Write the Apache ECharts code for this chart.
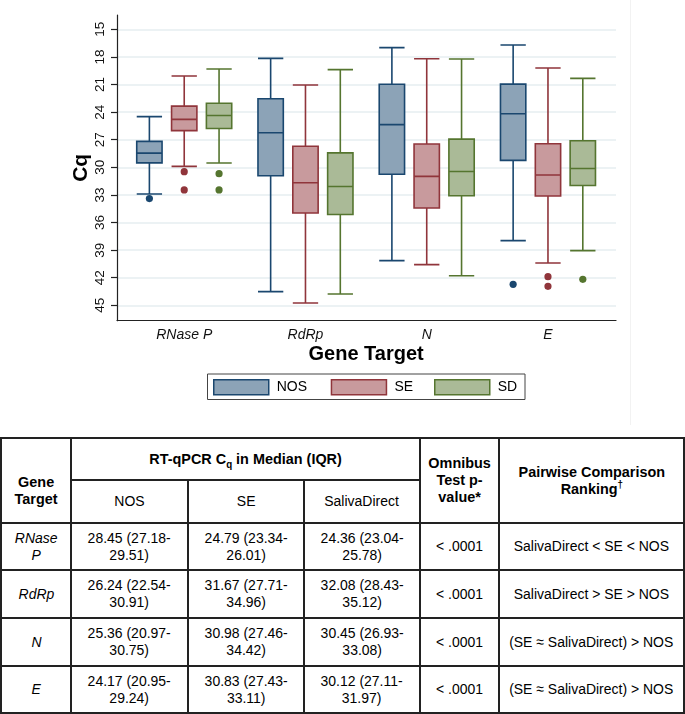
<!DOCTYPE html>
<html><head><meta charset="utf-8">
<script src="https://cdn.jsdelivr.net/npm/echarts@6/dist/echarts.min.js"></script>
<style>
html,body{margin:0;padding:0;background:#fff;}
#chart{position:absolute;left:0;top:0;width:685px;height:432px;}
#tbl{position:absolute;left:0;top:437px;border-collapse:collapse;table-layout:fixed;font-family:"Liberation Sans",Arial,sans-serif;color:#000;}
#tbl td,#tbl th{border:2px solid #222;text-align:center;vertical-align:middle;padding:0;line-height:16.7px;}
#tbl th{font-weight:bold;font-size:15.5px;}
#tbl td{font-size:15.2px;}
#tbl .s{display:inline-block;white-space:nowrap;transform:scaleX(0.92);}
#tbl th .s{transform:scaleX(0.93);}
</style></head>
<body>
<div id="chart"></div>
<table id="tbl"></table>
<script>
// ---------- data ----------
const genes = ['RNase P', 'RdRp', 'N', 'E'];
const groups = ['NOS', 'SE', 'SD'];
const yTicks = [15, 18, 21, 24, 27, 30, 33, 36, 39, 42, 45];
// [upper-whisker end (low Cq), Q1, median, Q3, lower-whisker end (high Cq)]
const nosBox = [[24.49, 27.18, 28.45, 29.51, 32.90], [18.15, 22.54, 26.24, 30.91, 43.51], [16.99, 20.97, 25.36, 30.75, 40.14], [16.70, 20.95, 24.17, 29.24, 37.97]];
const seBox  = [[20.07, 23.34, 24.79, 26.01, 29.90], [21.05, 27.71, 31.67, 34.96, 44.75], [18.19, 27.46, 30.98, 34.42, 40.58], [19.20, 27.43, 30.83, 33.11, 40.40]];
const sdBox  = [[19.31, 23.04, 24.36, 25.78, 29.53], [19.38, 28.43, 32.08, 35.12, 43.77], [18.22, 26.93, 30.45, 33.08, 41.78], [20.33, 27.11, 30.12, 31.97, 39.05]];
// outliers: [gene index, Cq]
const nosOut = [[0, 33.40], [3, 42.72]];
const seOut  = [[0, 30.47], [0, 32.46], [3, 41.88], [3, 42.93]];
const sdOut  = [[0, 30.69], [0, 32.46], [3, 42.17]];

// table
const tblGenes = ['RNase|P', 'RdRp', 'N', 'E'];
const tblNOS = ['28.45 (27.18-29.51)', '26.24 (22.54-30.91)', '25.36 (20.97-30.75)', '24.17 (20.95-29.24)'];
const tblSE  = ['24.79 (23.34-26.01)', '31.67 (27.71-34.96)', '30.98 (27.46-34.42)', '30.83 (27.43-33.11)'];
const tblSD  = ['24.36 (23.04-25.78)', '32.08 (28.43-35.12)', '30.45 (26.93-33.08)', '30.12 (27.11-31.97)'];
const tblP   = ['< .0001', '< .0001', '< .0001', '< .0001'];
const tblRank = ['SalivaDirect < SE < NOS', 'SalivaDirect > SE > NOS', '(SE \u2248 SalivaDirect) > NOS', '(SE \u2248 SalivaDirect) > NOS'];

// ---------- styles ----------
const FONT = '"Liberation Sans", Arial, sans-serif';
const lineCol = ['#1A476F', '#90353B', '#55752F'];
const fillCol = ['#8CA3B7', '#C89A9D', '#AABA97'];

const chart = echarts.init(document.getElementById('chart'), null, {renderer: 'canvas'});

const yMin = 13.44, yMax = 46.67;
const gridTop = 15, gridH = 305.7;

function outlierSeries(name, data, idx) {
  return {
    type: 'custom', name: name + ' outliers', xAxisIndex: 1, yAxisIndex: 1, z: 5,
    data: data, encode: {x: 0, y: 1}, silent: true,
    renderItem: function (params, api) {
      const p = api.coord([api.value(0), api.value(1)]);
      const bw = api.size([1, 0])[0];
      const avail = bw * 0.8 - 2;
      const gap = avail / 3 * 0.3;
      const boxW = (avail - 2 * gap) / 3;
      const off = boxW / 2 - avail / 2 + idx * (gap + boxW);
      return {type: 'circle', shape: {cx: p[0] + off, cy: p[1], r: 3.6}, style: {fill: lineCol[idx]}};
    }
  };
}
function boxSeries(name, data, idx) {
  return {
    type: 'boxplot', name: name, xAxisIndex: 1, yAxisIndex: 1, data: data, silent: true,
    itemStyle: {color: fillCol[idx], borderColor: lineCol[idx], borderWidth: 1.6},
    emphasis: {disabled: true}
  };
}
const legendLefts = [213, 330.7, 434];

const option = {
  backgroundColor: '#fff',
  animation: false,
  textStyle: {fontFamily: FONT},
  grid: [
    {left: 117, top: gridTop, width: 499, height: gridH},
    {left: 123.6, top: gridTop, width: 485, height: gridH}
  ],
  xAxis: [
    {type: 'value', gridIndex: 0, min: 0, max: 1,
      axisLine: {show: true, onZero: false, lineStyle: {color: '#222', width: 1.2}},
      axisTick: {show: false}, axisLabel: {show: false}, splitLine: {show: false}},
    {type: 'category', gridIndex: 1, data: genes, boundaryGap: true,
      axisLine: {show: false}, axisTick: {show: false},
      axisLabel: {fontSize: 14, fontStyle: 'italic', color: '#111', margin: 7, fontFamily: FONT},
      name: 'Gene Target', nameLocation: 'middle', nameGap: 24, nameMoveOverlap: false,
      nameTextStyle: {fontSize: 20, fontWeight: 'bold', color: '#000', fontFamily: FONT, verticalAlign: 'top'}}
  ],
  yAxis: [
    {type: 'value', gridIndex: 0, inverse: true, min: yMin, max: yMax,
      axisLine: {show: true, onZero: false, lineStyle: {color: '#222', width: 1.2}},
      axisTick: {show: true, length: 6, customValues: yTicks, lineStyle: {color: '#222', width: 1.2}},
      axisLabel: {customValues: yTicks, rotate: 90, fontSize: 13.5, color: '#111', margin: 10, fontFamily: FONT},
      splitLine: {show: true, lineStyle: {color: '#E6EEF1', width: 1.6}},
      name: 'Cq', nameLocation: 'middle', nameGap: 25, nameMoveOverlap: false,
      nameTextStyle: {fontSize: 21, fontWeight: 'bold', color: '#000', fontFamily: FONT}},
    {type: 'value', gridIndex: 1, inverse: true, min: yMin, max: yMax, show: false,
      splitLine: {show: false}}
  ],
  legend: groups.map(function (g, i) {
    return {
      data: [{name: g, icon: 'rect', itemStyle: {color: fillCol[i], borderColor: lineCol[i], borderWidth: 1.5}}],
      left: legendLefts[i], top: 379, padding: 0, itemWidth: 55, itemHeight: 15,
      selectedMode: false,
      textStyle: {fontSize: 14, color: '#000', fontFamily: FONT, padding: [0, 0, 0, 3]}
    };
  }),
  graphic: [
    {type: 'rect', shape: {x: 207.5, y: 374, width: 317.5, height: 25.5}, style: {fill: 'none', stroke: '#444', lineWidth: 1}, silent: true},
    {type: 'line', shape: {x1: 630.5, y1: 0, x2: 630.5, y2: 425}, style: {stroke: '#F2F2F2', lineWidth: 1}, silent: true}
  ],
  series: [
    boxSeries('NOS', nosBox, 0),
    boxSeries('SE', seBox, 1),
    boxSeries('SD', sdBox, 2),
    outlierSeries('NOS', nosOut, 0),
    outlierSeries('SE', seOut, 1),
    outlierSeries('SD', sdOut, 2)
  ]
};
chart.setOption(option);

// ---------- table ----------
(function buildTable() {
  const t = document.getElementById('tbl');
  const colW = [70, 117, 116, 116, 79, 185];
  const cg = document.createElement('colgroup');
  colW.forEach(function (w) { const c = document.createElement('col'); c.style.width = w + 'px'; cg.appendChild(c); });
  t.appendChild(cg);
  function esc(s) { return s.replace(/&/g, '&amp;').replace(/</g, '&lt;').replace(/>/g, '&gt;'); }
  function sp(h) { return '<span class="s">' + h + '</span>'; }
  const r1 = document.createElement('tr'); r1.style.height = '42px';
  r1.innerHTML =
    '<th rowspan="2" style="padding-top:20px">' + sp('Gene<br>Target') + '</th>' +
    '<th colspan="3">' + sp('RT-qPCR C<sub style="font-size:10.5px;line-height:0">q</sub> in Median (IQR)') + '</th>' +
    '<th rowspan="2">' + sp('Omnibus<br>Test p-<br>value*') + '</th>' +
    '<th rowspan="2">' + sp('Pairwise Comparison<br>Ranking<sup style="font-size:10.5px;line-height:0">\u2020</sup>') + '</th>';
  t.appendChild(r1);
  const r2 = document.createElement('tr'); r2.style.height = '43px';
  r2.innerHTML = '<td>' + sp('NOS') + '</td><td>' + sp('SE') + '</td><td>' + sp('SalivaDirect') + '</td>';
  t.appendChild(r2);
  function two(s) { const k = s.indexOf('-'); return sp(esc(s.slice(0, k + 1)) + '<br>' + esc(s.slice(k + 1))); }
  const heights = [47, 48, 48, 47];
  for (let i = 0; i < genes.length; i++) {
    const r = document.createElement('tr'); r.style.height = heights[i] + 'px';
    r.innerHTML =
      '<td style="font-style:italic">' + sp(tblGenes[i].split('|').map(esc).join('<br>')) + '</td>' +
      '<td>' + two(tblNOS[i]) + '</td>' +
      '<td>' + two(tblSE[i]) + '</td>' +
      '<td>' + two(tblSD[i]) + '</td>' +
      '<td>' + sp(esc(tblP[i])) + '</td>' +
      '<td>' + sp(esc(tblRank[i])) + '</td>';
    t.appendChild(r);
  }
})();
</script>
</body></html>
